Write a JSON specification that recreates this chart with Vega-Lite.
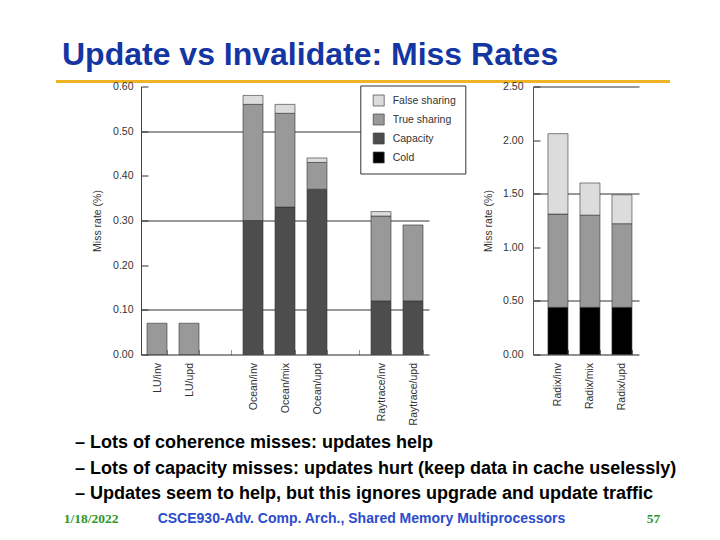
{
  "$schema": "https://vega.github.io/schema/vega-lite/v6.json",
  "background": "white",
  "padding": {"left": 54, "top": 0, "right": 0, "bottom": 0},
  "bounds": "flush",
  "spacing": 4.5,
  "config": {
    "view": {"stroke": null},
    "font": "Liberation Sans",
    "axis": {
      "labelFont": "Liberation Sans",
      "titleFont": "Liberation Sans",
      "labelFontSize": 10.5,
      "titleFontSize": 10.5,
      "titleFontWeight": "normal",
      "labelColor": "#333",
      "titleColor": "#333"
    }
  },
  "datasets": {
    "missRates": [
      {"app": "LU", "bench": "LU/inv", "type": "True sharing", "level": 3, "rate": 0.07},
      {"app": "LU", "bench": "LU/upd", "type": "True sharing", "level": 3, "rate": 0.07},
      {"app": "Ocean", "bench": "Ocean/inv", "type": "Capacity", "level": 2, "rate": 0.30},
      {"app": "Ocean", "bench": "Ocean/inv", "type": "True sharing", "level": 3, "rate": 0.26},
      {"app": "Ocean", "bench": "Ocean/inv", "type": "False sharing", "level": 4, "rate": 0.02},
      {"app": "Ocean", "bench": "Ocean/mix", "type": "Capacity", "level": 2, "rate": 0.33},
      {"app": "Ocean", "bench": "Ocean/mix", "type": "True sharing", "level": 3, "rate": 0.21},
      {"app": "Ocean", "bench": "Ocean/mix", "type": "False sharing", "level": 4, "rate": 0.02},
      {"app": "Ocean", "bench": "Ocean/upd", "type": "Capacity", "level": 2, "rate": 0.37},
      {"app": "Ocean", "bench": "Ocean/upd", "type": "True sharing", "level": 3, "rate": 0.06},
      {"app": "Ocean", "bench": "Ocean/upd", "type": "False sharing", "level": 4, "rate": 0.01},
      {"app": "Raytrace", "bench": "Raytrace/inv", "type": "Capacity", "level": 2, "rate": 0.12},
      {"app": "Raytrace", "bench": "Raytrace/inv", "type": "True sharing", "level": 3, "rate": 0.19},
      {"app": "Raytrace", "bench": "Raytrace/inv", "type": "False sharing", "level": 4, "rate": 0.01},
      {"app": "Raytrace", "bench": "Raytrace/upd", "type": "Capacity", "level": 2, "rate": 0.12},
      {"app": "Raytrace", "bench": "Raytrace/upd", "type": "True sharing", "level": 3, "rate": 0.17},
      {"app": "Radix", "bench": "Radix/inv", "type": "Cold", "level": 1, "rate": 0.44},
      {"app": "Radix", "bench": "Radix/inv", "type": "True sharing", "level": 3, "rate": 0.87},
      {"app": "Radix", "bench": "Radix/inv", "type": "False sharing", "level": 4, "rate": 0.75},
      {"app": "Radix", "bench": "Radix/mix", "type": "Cold", "level": 1, "rate": 0.44},
      {"app": "Radix", "bench": "Radix/mix", "type": "True sharing", "level": 3, "rate": 0.86},
      {"app": "Radix", "bench": "Radix/mix", "type": "False sharing", "level": 4, "rate": 0.30},
      {"app": "Radix", "bench": "Radix/upd", "type": "Cold", "level": 1, "rate": 0.44},
      {"app": "Radix", "bench": "Radix/upd", "type": "True sharing", "level": 3, "rate": 0.78},
      {"app": "Radix", "bench": "Radix/upd", "type": "False sharing", "level": 4, "rate": 0.27}
    ],
    "bullets": [
      {"line": 1, "text": "– Lots of coherence misses: updates help"},
      {"line": 2, "text": "– Lots of capacity misses: updates hurt (keep data in cache uselessly)"},
      {"line": 3, "text": "– Updates seem to help, but this ignores upgrade and update traffic"}
    ],
    "footer": [
      {"part": "date", "label": "1/18/2022"},
      {"part": "course", "label": "CSCE930-Adv. Comp. Arch., Shared Memory Multiprocessors"},
      {"part": "page", "label": "57"}
    ]
  },
  "vconcat": [
    {
      "width": 614,
      "height": 81.5,
      "title": {
        "text": "Update vs Invalidate: Miss Rates",
        "anchor": "start",
        "orient": "top",
        "frame": "group",
        "baseline": "alphabetic",
        "offset": -97,
        "dx": 6,
        "font": "Liberation Sans",
        "fontSize": 32,
        "fontWeight": "bold",
        "color": "#1436a3"
      },
      "data": {"values": [{}]},
      "mark": {"type": "rule", "color": "#f0b323", "strokeWidth": 3},
      "encoding": {"y": {"value": "height"}}
    },
    {
      "bounds": "flush",
      "spacing": 0,
      "hconcat": [
        {
          "width": 85,
          "height": 268,
          "data": {"values": []},
          "mark": "point"
        },
        {
          "bounds": "flush",
          "spacing": 104,
          "resolve": {"legend": {"color": "independent"}},
          "hconcat": [
            {
              "width": 288,
              "height": 268,
              "data": {"name": "missRates"},
              "transform": [{"filter": "datum.app != 'Radix'"}],
              "mark": {"type": "bar", "stroke": "#333", "strokeWidth": 0.6},
              "encoding": {
                "x": {
                  "field": "bench",
                  "type": "nominal",
                  "scale": {
                    "domain": ["LU/inv", "LU/upd", " ", "Ocean/inv", "Ocean/mix", "Ocean/upd", "  ", "Raytrace/inv", "Raytrace/upd"],
                    "paddingInner": 0.375,
                    "paddingOuter": 0.1875,
                    "round": false
                  },
                  "axis": {
                    "title": null,
                    "labelAngle": -90,
                    "labelPadding": 13,
                    "tickSize": -5,
                    "tickColor": "#999",
                    "tickBand": "extent",
                    "domainColor": "#222"
                  }
                },
                "y": {
                  "field": "rate",
                  "type": "quantitative",
                  "stack": "zero",
                  "scale": {"domain": [0, 0.6], "nice": false},
                  "axis": {
                    "values": [0, 0.1, 0.2, 0.3, 0.4, 0.5, 0.6],
                    "format": ".2f",
                    "title": "Miss rate (%)",
                    "titlePadding": 10.5,
                    "grid": true,
                    "gridColor": "#333",
                    "gridOpacity": {"condition": {"test": "round(datum.value * 10) % 2 == 1", "value": 1}, "value": 0},
                    "tickSize": -7,
                    "tickColor": "#333",
                    "labelPadding": 15,
                    "domainColor": "#444"
                  }
                },
                "color": {
                  "field": "type",
                  "type": "nominal",
                  "scale": {
                    "domain": ["False sharing", "True sharing", "Capacity", "Cold"],
                    "range": ["#dcdcdc", "#999999", "#4d4d4d", "#000000"]
                  },
                  "legend": {
                    "orient": "none",
                    "legendX": 219.3,
                    "legendY": -1,
                    "title": null,
                    "fillColor": "white",
                    "strokeColor": "#333",
                    "padding": 9,
                    "symbolOffset": 3.4,
                    "symbolType": "square",
                    "symbolSize": 121,
                    "symbolStrokeColor": "#444",
                    "symbolStrokeWidth": 0.7,
                    "labelFont": "Liberation Sans",
                    "labelFontSize": 10.5,
                    "labelColor": "#333",
                    "labelOffset": 8,
                    "rowPadding": 5
                  }
                },
                "order": {"field": "level", "type": "quantitative"}
              }
            },
            {
              "width": 106,
              "height": 268,
              "data": {"name": "missRates"},
              "transform": [{"filter": "datum.app == 'Radix'"}],
              "mark": {"type": "bar", "stroke": "#333", "strokeWidth": 0.6},
              "encoding": {
                "x": {
                  "field": "bench",
                  "type": "nominal",
                  "scale": {
                    "domain": ["Radix/inv", "Radix/mix", "Radix/upd"],
                    "paddingInner": 0.375,
                    "paddingOuter": 0.34375,
                    "align": 0.68,
                    "round": false
                  },
                  "axis": {
                    "title": null,
                    "labelAngle": -90,
                    "labelPadding": 13,
                    "tickSize": -5,
                    "tickColor": "#777",
                    "tickBand": "extent",
                    "domainColor": "#222"
                  }
                },
                "y": {
                  "field": "rate",
                  "type": "quantitative",
                  "stack": "zero",
                  "scale": {"domain": [0, 2.5], "nice": false},
                  "axis": {
                    "values": [0, 0.5, 1, 1.5, 2, 2.5],
                    "format": ".2f",
                    "title": "Miss rate (%)",
                    "titlePadding": 9.5,
                    "grid": true,
                    "gridColor": "#333",
                    "gridOpacity": {"condition": {"test": "round(datum.value * 2) % 2 == 1", "value": 1}, "value": 0},
                    "tickSize": -7,
                    "tickColor": "#333",
                    "labelPadding": 17,
                    "domainColor": "#555"
                  }
                },
                "color": {
                  "field": "type",
                  "type": "nominal",
                  "scale": {
                    "domain": ["False sharing", "True sharing", "Capacity", "Cold"],
                    "range": ["#dcdcdc", "#999999", "#4d4d4d", "#000000"]
                  },
                  "legend": null
                },
                "order": {"field": "level", "type": "quantitative"}
              }
            }
          ]
        }
      ]
    },
    {
      "width": 1,
      "height": 339.25,
      "data": {"values": []},
      "mark": "point"
    },
    {
      "width": 38,
      "height": 76.5,
      "data": {"name": "bullets"},
      "mark": {
        "type": "text",
        "align": "left",
        "baseline": "alphabetic",
        "font": "Liberation Sans",
        "fontSize": 18,
        "fontWeight": "bold",
        "color": "black"
      },
      "encoding": {
        "y": {
          "field": "line",
          "type": "ordinal",
          "scale": {"type": "point", "padding": 0.5, "round": false},
          "axis": null
        },
        "text": {"field": "text"}
      }
    },
    {
      "bounds": "flush",
      "spacing": 0,
      "hconcat": [
        {
          "width": 70,
          "height": 12.5,
          "data": {"name": "footer"},
          "transform": [{"filter": "datum.part == 'date'"}],
          "mark": {"type": "text", "baseline": "alphabetic", "font": "Liberation Serif", "fontWeight": "bold", "fontSize": 13.5, "color": "#2d962d"},
          "encoding": {"text": {"field": "label"}}
        },
        {
          "width": 471,
          "height": 12.5,
          "data": {"name": "footer"},
          "transform": [{"filter": "datum.part == 'course'"}],
          "mark": {"type": "text", "baseline": "alphabetic", "font": "Liberation Sans", "fontWeight": "bold", "fontSize": 14, "color": "#2b4bcc"},
          "encoding": {"text": {"field": "label"}}
        },
        {
          "width": 113,
          "height": 12.5,
          "data": {"name": "footer"},
          "transform": [{"filter": "datum.part == 'page'"}],
          "mark": {"type": "text", "baseline": "alphabetic", "font": "Liberation Serif", "fontWeight": "bold", "fontSize": 13.5, "color": "#2d962d"},
          "encoding": {"text": {"field": "label"}}
        }
      ]
    }
  ]
}
